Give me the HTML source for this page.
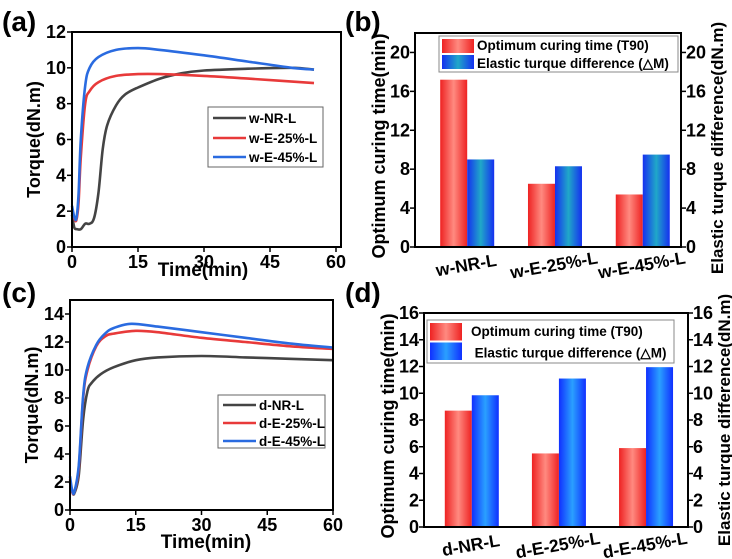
<!DOCTYPE html>
<html><head><meta charset="utf-8"><style>
body{margin:0;background:#fff;}
svg{display:block;font-family:"Liberation Sans",Arial,sans-serif;font-weight:bold;}
</style></head><body>
<svg id="fig" width="732" height="559" viewBox="0 0 732 559" xmlns="http://www.w3.org/2000/svg">
<defs>
<linearGradient id="gr" x1="0" x2="1" y1="0" y2="0"><stop offset="0" stop-color="#e22"/><stop offset="0.5" stop-color="#ff8a80"/><stop offset="1" stop-color="#e22"/></linearGradient>
<linearGradient id="gb1" x1="0" x2="1" y1="0" y2="0"><stop offset="0" stop-color="#1530f0"/><stop offset="0.5" stop-color="#20a8c8"/><stop offset="1" stop-color="#1530f0"/></linearGradient>
<linearGradient id="gb2" x1="0" x2="1" y1="0" y2="0"><stop offset="0" stop-color="#1030ff"/><stop offset="0.5" stop-color="#2aa0ff"/><stop offset="1" stop-color="#1030ff"/></linearGradient>
</defs>
<g id="root"></g>
</svg>
<script>
// ---- Panel (a) data
const aBlackT=[0,0.5,1,2,3,4,5,6,7,8,10,12,15,20,25,30,40,50,55];
const aBlackV=[1.8,1.1,1.0,1.0,1.3,1.3,1.6,3,5.5,6.8,7.9,8.5,8.9,9.4,9.7,9.85,9.95,10,9.9];
const aRedT=[0,0.5,1,1.5,2,3,4,6,10,15,20,30,40,55];
const aRedV=[2,1.6,1.5,2.5,5,8,8.7,9.2,9.55,9.65,9.65,9.55,9.4,9.15];
const aBlueT=[0,0.5,1,1.5,2,3,4,6,10,15,20,30,40,50,55];
const aBlueV=[2.3,1.7,1.6,3,6,9,10,10.6,11,11.1,11,10.7,10.35,10,9.9];
const aNames=["w-NR-L","w-E-25%-L","w-E-45%-L"];
const aXTicks=[0,15,30,45,60];
const aYTicks=[0,2,4,6,8,10,12];
// ---- Panel (c) data
const cBlackT=[0,0.5,1,2,3,4,5,7,10,15,20,30,40,50,60];
const cBlackV=[2,1.3,1.2,2.5,6.5,8.5,9.1,9.7,10.2,10.7,10.9,11,10.9,10.8,10.7];
const cRedT=[0,0.5,1,2,3,4,6,8,10,15,20,30,40,50,60];
const cRedV=[2.2,1.3,1.3,3,8,10,11.7,12.4,12.6,12.8,12.7,12.3,12,11.7,11.5];
const cBlueT=[0,0.5,1,2,3,4,6,8,10,14,20,30,40,50,60];
const cBlueV=[2.4,1.4,1.3,3.2,8.2,10.2,11.8,12.6,13,13.3,13.1,12.7,12.3,11.9,11.6];
const cNames=["d-NR-L","d-E-25%-L","d-E-45%-L"];
const cXTicks=[0,15,30,45,60];
const cYTicks=[0,2,4,6,8,10,12,14];
// ---- Panel (b) data
const bCats=["w-NR-L","w-E-25%-L","w-E-45%-L"];
const bT90=[17.2,6.5,5.4];
const bDM=[9.0,8.3,9.5];
const bYTicks=[0,4,8,12,16,20];
// ---- Panel (d) data
const dCats=["d-NR-L","d-E-25%-L","d-E-45%-L"];
const dT90=[8.7,5.5,5.9];
const dDM=[9.85,11.1,11.95];
const dYTicks=[0,2,4,6,8,10,12,14,16];

const NS="http://www.w3.org/2000/svg";
const root=document.getElementById('root');
function mk(tag,attrs,parent,text){const e=document.createElementNS(NS,tag);for(const k in attrs)e.setAttribute(k,attrs[k]);if(text!==undefined)e.textContent=text;(parent||root).appendChild(e);return e;}
function smooth(pts){
  let d='M'+pts[0][0].toFixed(1)+','+pts[0][1].toFixed(1);
  for(let i=0;i<pts.length-1;i++){
    const p0=pts[i-1]||pts[i],p1=pts[i],p2=pts[i+1],p3=pts[i+2]||p2;
    const c1=[p1[0]+(p2[0]-p0[0])/6,p1[1]+(p2[1]-p0[1])/6];
    const c2=[p2[0]-(p3[0]-p1[0])/6,p2[1]-(p3[1]-p1[1])/6];
    d+='C'+c1[0].toFixed(1)+','+c1[1].toFixed(1)+' '+c2[0].toFixed(1)+','+c2[1].toFixed(1)+' '+p2[0].toFixed(1)+','+p2[1].toFixed(1);
  }
  return d;
}

function linePanel(p){
  const g=mk('g',{});
  
  
  const sx=v=>p.L+(v-0)/(p.xmax)*(p.R-p.L)*p.xs;
  const sy=v=>p.B-v/p.ymax*(p.B-p.T);
  const cols=['#444','#e83a3a','#2a6be0'];
  p.series.forEach((s,i)=>{
    const pts=s.t.map((t,j)=>[sx(t),sy(s.v[j])]);
    const pa=mk('path',{d:smooth(pts),fill:'none',stroke:cols[i],'stroke-width':2.6,'stroke-linejoin':'round'},g);
    
    
  });
  const fr=mk('rect',{x:p.L,y:p.T,width:p.R-p.L,height:p.B-p.T,fill:'none',stroke:'#000','stroke-width':2},g);
  
  
  p.xt.forEach(t=>{const x=sx(t);mk('line',{x1:x,x2:x,y1:p.B,y2:p.B+5,stroke:'#000','stroke-width':1.5},g);
    const tx=mk('text',{x:x,y:p.B+21,'font-size':18,'text-anchor':'middle'},g,t);
    
    });
  p.yt.forEach(t=>{const y=sy(t);mk('line',{x1:p.L-5,x2:p.L,y1:y,y2:y,stroke:'#000','stroke-width':1.5},g);
    const tx=mk('text',{x:p.L-6,y:y+6,'font-size':18,'text-anchor':'end'},g,t);
    
    });
  const xt=mk('text',{x:p.xtx,y:p.xty,'font-size':19,'text-anchor':'middle'},g,'Time(min)');
  
  
  const yt=mk('text',{x:0,y:0,'font-size':18,'text-anchor':'middle',transform:`translate(${p.L-32},${(p.T+p.B)/2}) rotate(-90)`},g,'Torque(dN.m)');
  
  
  const lg=mk('g',{},g);
  
  
  mk('rect',{x:p.lg[0],y:p.lg[1],width:p.lg[2],height:p.lg[3],fill:'#fff',stroke:'#666','stroke-width':1},lg);
  p.names.forEach((n,i)=>{const y=p.lgy[i];
    mk('line',{x1:p.lg[0]+5,x2:p.lg[0]+38,y1:y,y2:y,stroke:cols[i],'stroke-width':2.6},lg);
    const t=mk('text',{x:p.lg[0]+41,y:y+5,'font-size':13.5},lg,n);
    
    });
  const lab=mk('text',{x:p.labx,y:p.laby,'font-size':28},g,p.label);
  
  
}

function barPanel(p){
  const g=mk('g',{});
  
  
  const sy=v=>p.B-v/p.ymax*(p.B-p.T);
  const W=p.R-p.L, bw=27;
  p.cats.forEach((c,i)=>{
    const cx=p.L+W*(0.2+0.33*i)+p.off;
    const r=mk('rect',{x:cx-bw,y:sy(p.t90[i]),width:bw,height:p.B-sy(p.t90[i]),fill:'url(#gr)'},g);
    
    
    const b=mk('rect',{x:cx,y:sy(p.dm[i]),width:bw,height:p.B-sy(p.dm[i]),fill:p.bfill},g);
    
    
    const t=mk('text',{x:0,y:0,'font-size':17.5,'text-anchor':'middle',transform:`translate(${cx},${p.B+24}) rotate(-10)`},g,c);
    
    
  });
  const fr=mk('rect',{x:p.L,y:p.T,width:W,height:p.B-p.T,fill:'none',stroke:'#000','stroke-width':2},g);
  
  
  p.yt.forEach(t=>{const y=sy(t);
    mk('line',{x1:p.L-5,x2:p.L,y1:y,y2:y,stroke:'#000','stroke-width':1.5},g);
    mk('line',{x1:p.R,x2:p.R+5,y1:y,y2:y,stroke:'#000','stroke-width':1.5},g);
    const a=mk('text',{x:p.L-5,y:y+6,'font-size':18,'text-anchor':'end'},g,t);
    
    
    const b=mk('text',{x:p.R+5,y:y+6,'font-size':18},g,t);
    
    });
  const yl=mk('text',{x:0,y:0,'font-size':18,'text-anchor':'middle',transform:`translate(${p.L-30},${(p.T+p.B)/2+6}) rotate(-90)`},g,'Optimum curing time(min)');
  
  
  const yr=mk('text',{x:0,y:0,'font-size':17,'text-anchor':'middle',transform:`translate(${p.R+42},${(p.T+p.B)/2+p.ryoff}) rotate(-90)`},g,'Elastic turque difference(dN.m)');
  
  
  const lg=mk('g',{},g);
  
  
  const [lx,ly,lw,lh]=p.lg;
  mk('rect',{x:lx,y:ly,width:lw,height:lh,fill:'#fff',stroke:'#888','stroke-width':1},lg);
  mk('rect',{x:lx+3,y:ly+3,width:32,height:lh/2-4,fill:'url(#gr)'},lg);
  mk('rect',{x:lx+3,y:ly+lh/2+1,width:32,height:lh/2-4,fill:p.bfill},lg);
  const t1=mk('text',{x:lx+38+p.toff,y:ly+lh/4+5,'font-size':13.5},lg,'Optimum curing time (T90)');
  
  
  const t2=mk('text',{x:lx+38+p.toff*1.6,y:ly+3*lh/4+5,'font-size':13.5},lg,'Elastic turque difference (\u25B3M)');
  
  
  const lab=mk('text',{x:p.labx,y:p.laby,'font-size':28},g,p.label);
  
  
}

linePanel({id:'a',L:72,R:341,T:32,B:247,xmax:60,xs:(336-72)/(341-72),ymax:12,
  series:[{t:aBlackT,v:aBlackV},{t:aRedT,v:aRedV},{t:aBlueT,v:aBlueV}],names:aNames,xt:aXTicks,yt:aYTicks,
  xtx:203,xty:276,lg:[208,107,115,60],lgy:[118,138,157],label:'(a)',labx:2,laby:31});
linePanel({id:'c',L:70,R:333,T:300,B:510,xmax:60,xs:1,ymax:15,
  series:[{t:cBlackT,v:cBlackV},{t:cRedT,v:cRedV},{t:cBlueT,v:cBlueV}],names:cNames,xt:cXTicks,yt:cYTicks,
  xtx:206,xty:548,lg:[218,395,107,53],lgy:[405,423,441],label:'(c)',labx:2,laby:302});
barPanel({id:'b',L:415,R:681,T:33,B:247,ymax:22,off:-1,cats:bCats,t90:bT90,dm:bDM,yt:bYTicks,bfill:'url(#gb1)',
  lg:[439,36,239,36],toff:0,ryoff:8,label:'(b)',labx:345,laby:31});
barPanel({id:'d',L:424,R:688,T:313,B:527,ymax:16,off:-5,cats:dCats,t90:dT90,dm:dDM,yt:dYTicks,bfill:'url(#gb2)',
  lg:[427,320,247,43],toff:6,ryoff:0,label:'(d)',labx:345,laby:302});
</script>
</body></html>
